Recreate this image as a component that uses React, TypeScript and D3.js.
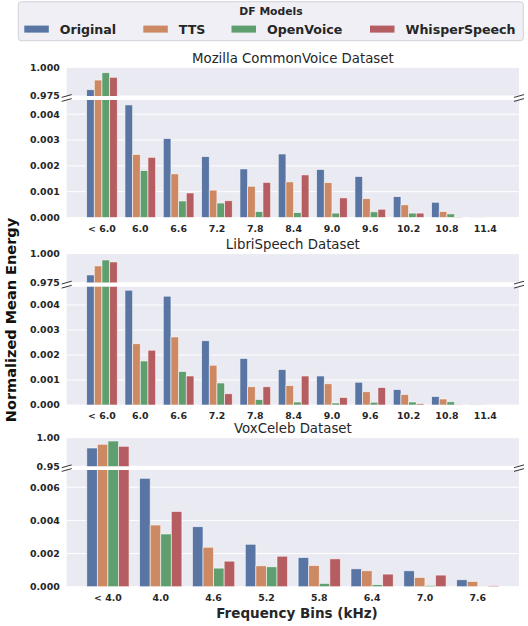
import React from "react";
import * as d3 from "d3";

// ---------- data ----------
const models = ["Original", "TTS", "OpenVoice", "WhisperSpeech"];
const modelColors = ["#5975A4", "#CC8963", "#5F9E6E", "#B55D60"];

const mozillaTitle = "Mozilla CommonVoice Dataset";
const mozillaBins = ["< 6.0", "6.0", "6.6", "7.2", "7.8", "8.4", "9.0", "9.6", "10.2", "10.8", "11.4"];
const mozillaOriginal = [0.9805, 0.00436, 0.00306, 0.00236, 0.00188, 0.00246, 0.00186, 0.00159, 0.00081, 0.00059, 0.00001];
const mozillaTTS = [0.9889, 0.00244, 0.00169, 0.00106, 0.00121, 0.00138, 0.00135, 0.00073, 0.00049, 0.00023, 0.00001];
const mozillaOpenVoice = [0.9953, 0.00182, 0.00064, 0.00056, 0.00023, 0.00019, 0.00017, 0.00022, 0.00017, 0.00014, 0.0];
const mozillaWhisper = [0.9913, 0.00233, 0.00095, 0.00065, 0.00136, 0.00165, 0.00076, 0.00032, 0.00017, 0.00002, 0.0];

const libriTitle = "LibriSpeech Dataset";
const libriBins = ["< 6.0", "6.0", "6.6", "7.2", "7.8", "8.4", "9.0", "9.6", "10.2", "10.8", "11.4"];
const libriOriginal = [0.9816, 0.00459, 0.00435, 0.00257, 0.00186, 0.00142, 0.00116, 0.00091, 0.00062, 0.00034, 0.00001];
const libriTTS = [0.9894, 0.00245, 0.00272, 0.00159, 0.00073, 0.00078, 0.00085, 0.00053, 0.00042, 0.00024, 0.00001];
const libriOpenVoice = [0.9945, 0.00176, 0.00134, 0.00088, 0.00022, 0.00012, 0.00008, 0.00011, 0.00012, 0.00013, 0.0];
const libriWhisper = [0.9928, 0.00219, 0.00116, 0.00045, 0.00073, 0.00116, 0.0003, 0.0007, 0.00005, 0.00001, 0.0];

const voxTitle = "VoxCeleb Dataset";
const voxBins = ["< 4.0", "4.0", "4.6", "5.2", "5.8", "6.4", "7.0", "7.6"];
const voxOriginal = [0.982, 0.00654, 0.00362, 0.00256, 0.00176, 0.00108, 0.00096, 0.00042];
const voxTTS = [0.9885, 0.00372, 0.00238, 0.00126, 0.00128, 0.00096, 0.00056, 0.00032];
const voxOpenVoice = [0.9942, 0.00318, 0.00112, 0.0012, 0.0002, 0.00012, 0.00008, 0.00001];
const voxWhisper = [0.985, 0.00454, 0.00154, 0.00184, 0.00168, 0.00076, 0.0007, 0.00006];

const mozillaTopTicks = [0.975, 1.0];
const mozillaBottomTicks = [0, 0.001, 0.002, 0.003, 0.004];
const libriTopTicks = [0.975, 1.0];
const libriBottomTicks = [0, 0.001, 0.002, 0.003, 0.004];
const voxTopTicks = [0.95, 1.0];
const voxBottomTicks = [0, 0.002, 0.004, 0.006];

// ---------- layout ----------
const W = 528;
const H = 626;
const LEFT = 66.7;
const RIGHT = 519;
const FONT = "DejaVu Sans";
const TXT = "#262626";
const BG = "#EAEAF2";

const panels = [
  {
    id: "moz", title: mozillaTitle, bins: mozillaBins,
    series: [mozillaOriginal, mozillaTTS, mozillaOpenVoice, mozillaWhisper],
    topTicks: mozillaTopTicks, bottomTicks: mozillaBottomTicks, tickDigits: 3, topDigits: 3,
    topDomain: [0.975, 1.0], bottomDomain: [0, 0.00455], xDomain: [-0.92, 10.88],
    top: [67.3, 96], bottom: [100, 217.5],
  },
  {
    id: "lib", title: libriTitle, bins: libriBins,
    series: [libriOriginal, libriTTS, libriOpenVoice, libriWhisper],
    topTicks: libriTopTicks, bottomTicks: libriBottomTicks, tickDigits: 3, topDigits: 3,
    topDomain: [0.975, 1.0], bottomDomain: [0, 0.00473], xDomain: [-0.92, 10.88],
    top: [253.6, 282.6], bottom: [286.7, 405],
  },
  {
    id: "vox", title: voxTitle, bins: voxBins,
    series: [voxOriginal, voxTTS, voxOpenVoice, voxWhisper],
    topTicks: voxTopTicks, bottomTicks: voxBottomTicks, tickDigits: 3, topDigits: 2,
    topDomain: [0.95, 1.0], bottomDomain: [0, 0.00704], xDomain: [-0.78, 7.78],
    top: [437.7, 466.3], bottom: [470, 586.7],
  },
];

const legendPatchX = [24.3, 143.3, 231.5, 370];

function Panel({ p }: { p: any }) {
  const x = d3.scaleLinear().domain(p.xDomain).range([LEFT, RIGHT]);
  const yT = d3.scaleLinear().domain(p.topDomain).range([p.top[1], p.top[0]]);
  const yB = d3.scaleLinear().domain(p.bottomDomain).range([p.bottom[1], p.bottom[0]]);
  const bw = x(0.2) - x(0);
  const nS = p.series.length;
  const offset = (j: number) => (j - (nS - 1) / 2) * 0.2;
  const clipT = `clip-${p.id}-t`;
  const clipB = `clip-${p.id}-b`;
  const fmtB = d3.format(`.${p.tickDigits}f`);
  const fmtT = d3.format(`.${p.topDigits}f`);

  const breakMarks = [];
  for (const ex of [LEFT, RIGHT]) {
    for (const ey of [p.top[1], p.bottom[0]]) {
      breakMarks.push(
        <line key={`${ex}-${ey}`} x1={ex - 5} y1={ey + 1.4} x2={ex + 5} y2={ey - 1.4} stroke="#333" strokeWidth={1} />
      );
    }
  }

  return (
    <g>
      <defs>
        <clipPath id={clipT}><rect x={LEFT} y={p.top[0]} width={RIGHT - LEFT} height={p.top[1] - p.top[0]} /></clipPath>
        <clipPath id={clipB}><rect x={LEFT} y={p.bottom[0]} width={RIGHT - LEFT} height={p.bottom[1] - p.bottom[0]} /></clipPath>
      </defs>
      <text x={(LEFT + RIGHT) / 2} y={p.top[0] - 4.6} textAnchor="middle" fontFamily={FONT} fontSize={13.3} fill={TXT}>{p.title}</text>
      {/* top axes */}
      <rect x={LEFT} y={p.top[0]} width={RIGHT - LEFT} height={p.top[1] - p.top[0]} fill={BG} />
      {p.topTicks.map((t: number) => (
        <line key={t} x1={LEFT} x2={RIGHT} y1={yT(t)} y2={yT(t)} stroke="#fff" strokeWidth={1} />
      ))}
      <g clipPath={`url(#${clipT})`}>
        {p.series.map((vals: number[], j: number) =>
          vals.map((v, i) =>
            v > p.topDomain[0] ? (
              <rect key={`${j}-${i}`} x={x(i + offset(j)) - bw / 2} y={yT(v)} width={bw} height={p.top[1] + 2 - yT(v)}
                fill={modelColors[j]} stroke="#fff" strokeOpacity={0.7} strokeWidth={0.8} />
            ) : null
          )
        )}
      </g>
      {p.topTicks.map((t: number) => (
        <text key={t} x={LEFT - 7} y={yT(t) + 3.4} textAnchor="end" fontFamily={FONT} fontWeight="bold" fontSize={9.4} fill={TXT}>{fmtT(t)}</text>
      ))}
      {/* bottom axes */}
      <rect x={LEFT} y={p.bottom[0]} width={RIGHT - LEFT} height={p.bottom[1] - p.bottom[0]} fill={BG} />
      {p.bottomTicks.map((t: number) => (
        <line key={t} x1={LEFT} x2={RIGHT} y1={yB(t)} y2={yB(t)} stroke="#fff" strokeWidth={1} />
      ))}
      <g clipPath={`url(#${clipB})`}>
        {p.series.map((vals: number[], j: number) =>
          vals.map((v, i) => (
            <rect key={`${j}-${i}`} x={x(i + offset(j)) - bw / 2} y={yB(Math.min(v, p.bottomDomain[1] * 1.1))} width={bw}
              height={Math.max(0, yB(0) - yB(Math.min(v, p.bottomDomain[1] * 1.1)))}
              fill={modelColors[j]} stroke="#fff" strokeOpacity={0.7} strokeWidth={0.8} />
          ))
        )}
      </g>
      {p.bottomTicks.map((t: number) => (
        <text key={t} x={LEFT - 7} y={yB(t) + 3.4} textAnchor="end" fontFamily={FONT} fontWeight="bold" fontSize={9.4} fill={TXT}>{fmtB(t)}</text>
      ))}
      {p.bins.map((b: string, i: number) => (
        <text key={b} x={x(i)} y={p.bottom[1] + 14} textAnchor="middle" fontFamily={FONT} fontWeight="bold" fontSize={9.4} fill={TXT}>{b}</text>
      ))}
      {breakMarks}
    </g>
  );
}

export default function App() {
  return (
    <svg width={W} height={H} style={{ display: "block", position: "absolute", left: 0, top: 0, background: "#fff" }}>
      <rect width={W} height={H} fill="#fff" />
      {/* legend */}
      <rect x={18.3} y={1.7} width={505} height={39} rx={3} fill="#EFEFF5" stroke="#d0d0d8" strokeWidth={1} />
      <text x={271} y={15} textAnchor="middle" fontFamily={FONT} fontWeight="bold" fontSize={10.8} fill={TXT}>DF Models</text>
      {models.map((m, j) => (
        <g key={m}>
          <rect x={legendPatchX[j]} y={25.6} width={24.5} height={7} fill={modelColors[j]} />
          <text x={legendPatchX[j] + 35.5} y={33.8} fontFamily={FONT} fontWeight="bold" fontSize={12.6} fill={TXT}>{m}</text>
        </g>
      ))}
      {panels.map((p) => <Panel key={p.id} p={p} />)}
      <text transform={`translate(15.5,320) rotate(-90)`} textAnchor="middle" fontFamily={FONT} fontWeight="bold" fontSize={14.5} fill="#111">Normalized Mean Energy</text>
      <text x={297} y={617.5} textAnchor="middle" fontFamily={FONT} fontWeight="bold" fontSize={13.5} fill={TXT}>Frequency Bins (kHz)</text>
    </svg>
  );
}
